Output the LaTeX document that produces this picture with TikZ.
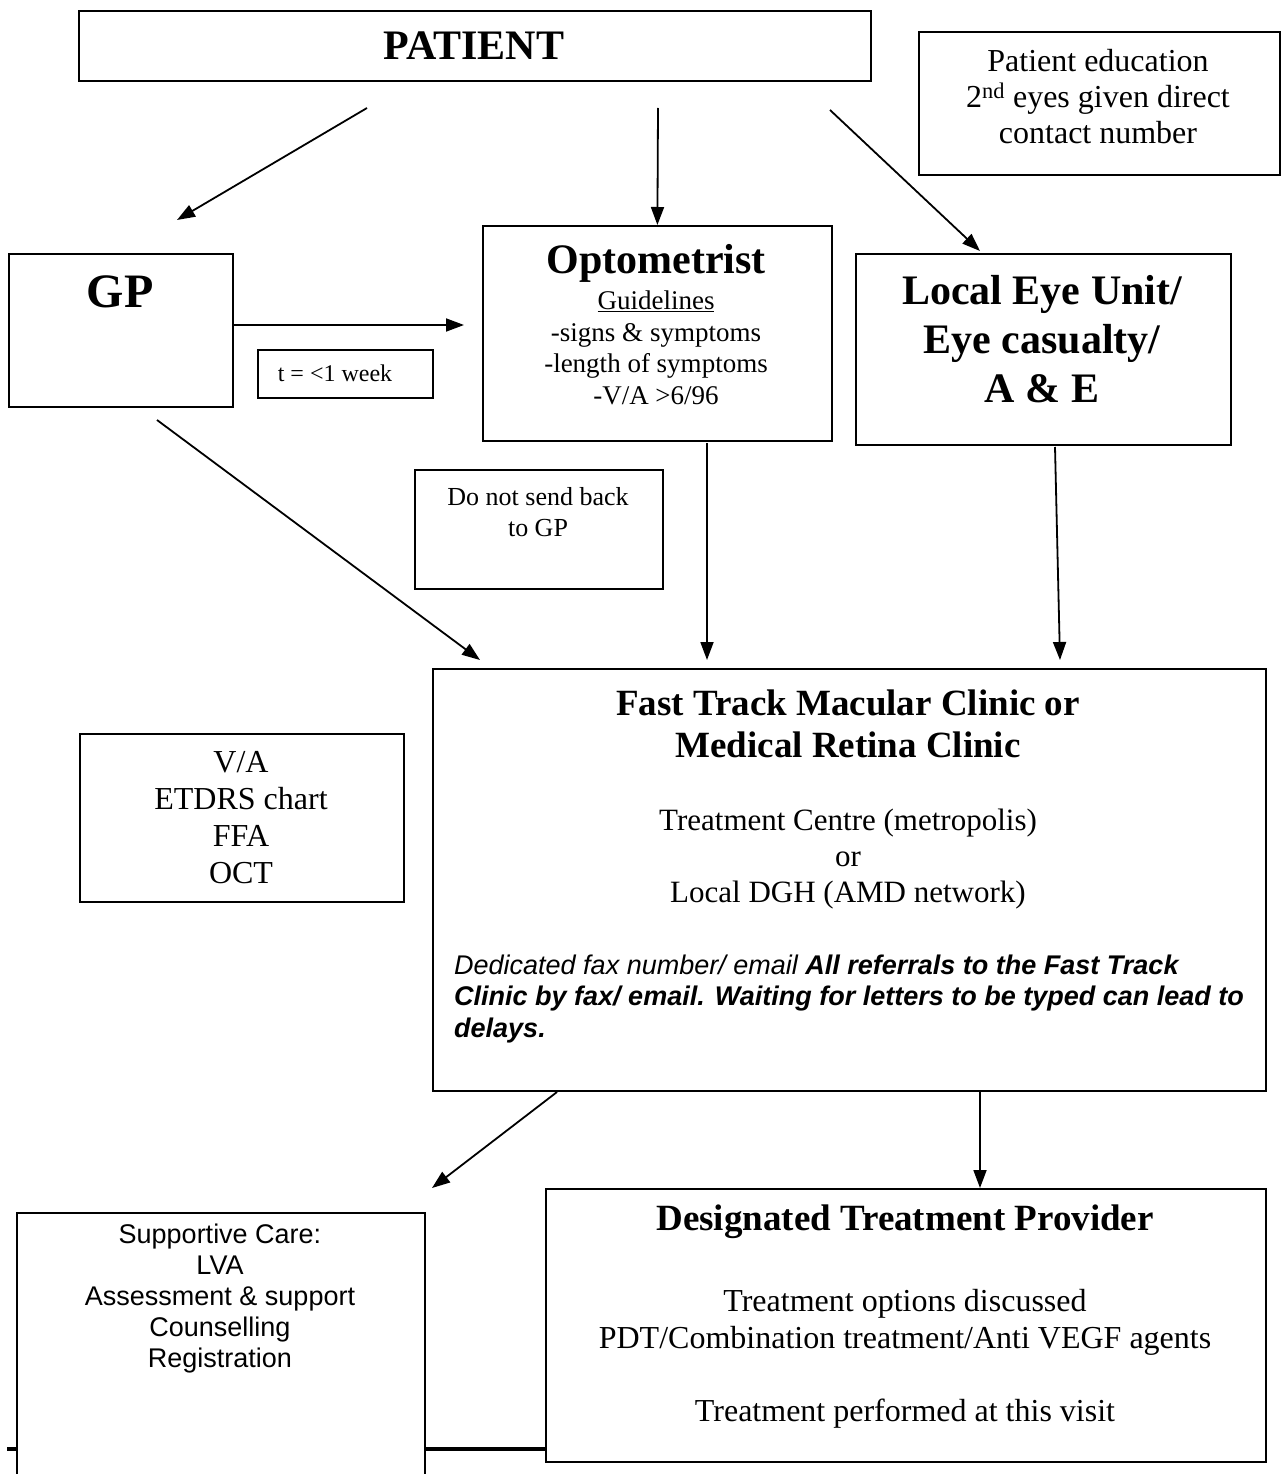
\documentclass[tikz,border=0pt]{standalone}
\usepackage{fontspec}
\setmainfont{Liberation Serif}
\newfontfamily\arialf{Liberation Sans}
\usetikzlibrary{arrows.meta,calc}
\newcommand\fsz[2]{\fontsize{#1}{#2}\selectfont}
\begin{document}
\begin{tikzpicture}[x=1pt,y=-1pt,
  box/.style={draw, line width=1.8pt, fill=white, inner sep=0pt, anchor=north west},
  arr/.style={line width=1.8pt, -{Triangle[length=18pt,width=13pt]}},
  txt/.style={inner sep=0pt, align=center}]
\useasboundingbox (0,0) rectangle (1285,1474);
\clip (0,0) rectangle (1285,1474);
\fill[white] (0,0) rectangle (1285,1474);

% boxes
\node[box, minimum width=792pt, minimum height=70pt] (patient) at (78,10) {};
\node[box, minimum width=361pt, minimum height=143pt] (edu) at (918,31) {};
\node[box, minimum width=224pt, minimum height=153pt] (gp) at (8,253) {};
\node[box, minimum width=349pt, minimum height=215pt] (opt) at (482,225) {};
\node[box, minimum width=375pt, minimum height=191pt] (leu) at (855,253) {};
\node[box, minimum width=175pt, minimum height=48pt] (tbox) at (257,349) {};
\node[box, minimum width=248pt, minimum height=119pt] (donot) at (414,469) {};
\node[box, minimum width=833pt, minimum height=422pt] (ft) at (432,668) {};
\node[box, minimum width=324pt, minimum height=168pt] (va) at (79,733) {};

% rule at the bottom
\coordinate (rulel) at (7,1449);
\node[box, minimum width=720pt, minimum height=273pt] (dtp) at (545,1188) {};
\draw[line width=4pt] (rulel) -- (dtp.west |- rulel);
\node[box, minimum width=408pt, minimum height=290pt] (sup) at (16,1212) {};

% texts
\node[txt, font=\fsz{42}{48}\bfseries] (patientT) at (474,46) {PATIENT};
\node[txt, font=\fsz{32}{36}] (eduT) at (1098,97) {Patient education\\2\textsuperscript{nd} eyes given direct\\contact number};
\node[txt, font=\fsz{48}{54}\bfseries] (gpT) at (120,292) {GP};
\node[txt, font=\fsz{42}{48}\bfseries] (optT) at (656,263) {Optometrist};
\node[txt, font=\fsz{27}{31.5}] (optB) at (656,348) {\underline{Guidelines}\\-signs \& symptoms\\-length of symptoms\\-V/A >6/96};
\node[txt, font=\fsz{42}{49}\bfseries] (leuT) at (1042,339) {Local Eye Unit/\\Eye casualty/\\A \& E};
\node[txt, font=\fsz{24}{28}] (tT) at (335,373) {t = <1 week};
\node[txt, font=\fsz{26}{31}] (donotT) at (538,512) {Do not send back\\to GP};
\node[txt, font=\fsz{37}{42}\bfseries] (ftT) at (848,724) {Fast Track Macular Clinic or\\Medical Retina Clinic};
\node[txt, font=\fsz{31}{36}] (ftB) at (848,859) {Treatment Centre (metropolis)\\or\\Local DGH (AMD network)};
\node[txt, align=left, anchor=west, font=\arialf\fsz{27}{31.5}\itshape] (ftI) at (454,999)
  {Dedicated fax number/ email \textbf{All referrals to the Fast Track}\\
   \textbf{Clinic by fax/ email. Waiting for letters to be typed can lead to}\\
   \textbf{delays.}};
\node[txt, font=\fsz{32}{37}] (vaT) at (241,818) {V/A\\ETDRS chart\\FFA\\OCT};
\node[txt, font=\arialf\fsz{27}{31}] (supT) at (220,1299) {Supportive Care:\\LVA\\Assessment \& support\\Counselling\\Registration};
\node[txt, font=\fsz{37}{42}\bfseries] (dtpT) at (905,1222) {Designated Treatment Provider};
\node[txt, font=\fsz{32}{36.7}] (dtpB) at (905,1359) {Treatment options discussed\\PDT/Combination treatment/Anti VEGF agents\\[36.7pt]Treatment performed at this visit};

% arrow end points
\coordinate (a1s) at (367,108); \coordinate (a1e) at (177,220);
\coordinate (a2s) at (658,108);
\coordinate (a3s) at (830,110); \coordinate (a3e) at (980,251);
\coordinate (a4e) at (464,325);
\coordinate (a5s) at (157,420); \coordinate (a5e) at (480,660);
\coordinate (a6s) at (707,443); \coordinate (a6e) at (707,660);
\coordinate (a7s) at (1055,447); \coordinate (a7e) at (1060,660);
\coordinate (a8s) at (557,1092); \coordinate (a8e) at (432,1188);
\coordinate (a9s) at (980,1092);

\draw[arr] (a1s) -- (a1e);
\draw[arr] (a2s) -- (opt.north);
\draw[arr] (a3s) -- (a3e);
\draw[arr] (gp.east |- a4e) -- (a4e);
\draw[arr] (a5s) -- (a5e);
\draw[arr] (a6s) -- (a6e);
\draw[arr] (a7s) -- (a7e);
\draw[arr] (a8s) -- (a8e);
\draw[arr] (a9s) -- (a9s |- dtp.north);
\end{tikzpicture}
\end{document}
